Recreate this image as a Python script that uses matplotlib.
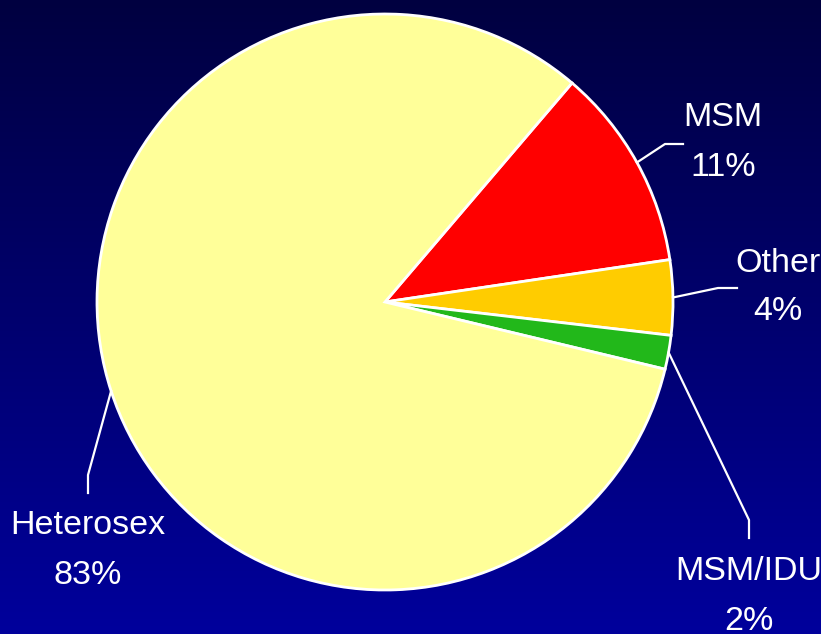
#!/usr/bin/env python

import numpy as np
import matplotlib.pyplot as plt
from matplotlib.colors import LinearSegmentedColormap

plt.rcParams['font.family'] = ['Liberation Sans', 'DejaVu Sans']

groups = ['MSM', 'Other', 'MSM/IDU', 'Heterosex']
shares = [11.4, 4.2, 1.9, 82.5]
pct_labels = ['11%', '4%', '2%', '83%']
colors = ['#FF0000', '#FFCC00', '#22B81A', '#FFFF99']

W, H = 821, 634
fig = plt.figure(figsize=(W / 100, H / 100), dpi=100)

# background gradient, dark navy on top to brighter blue at bottom
bg = fig.add_axes([0, 0, 1, 1])
grad = np.linspace(0, 1, 256).reshape(-1, 1)
cmap = LinearSegmentedColormap.from_list('bg', ['#000040', '#00009C'])
bg.imshow(grad, aspect='auto', cmap=cmap, extent=[0, 1, 0, 1])
bg.axis('off')

# pie centre (385, 302) px, radius 288 px
cx, cy, r = 385, 302, 288
ax = fig.add_axes([(cx - r) / W, (H - cy - r) / H, 2 * r / W, 2 * r / H])
wedges, _ = ax.pie(shares, colors=colors, startangle=49.5, counterclock=False,
                   wedgeprops=dict(edgecolor='white', linewidth=2))
ax.set_xlim(-1, 1)
ax.set_ylim(-1, 1)
ax.set_aspect('equal')


def px(x, y):
    return (x - cx) / r, (cy - y) / r


# elbow point, end of leader, label centre (pixels)
layout = {
    'MSM': ((665, 144), (683, 144), (723, 142)),
    'Other': ((718, 288), (737, 288), (778, 287)),
    'MSM/IDU': ((749, 520), (749, 538), (749, 596)),
    'Heterosex': ((88, 475), (88, 493), (88, 550)),
}

for w, g, p in zip(wedges, groups, pct_labels):
    ang = np.deg2rad((w.theta1 + w.theta2) / 2)
    x0, y0 = np.cos(ang), np.sin(ang)
    elbow, end, lab = layout[g]
    ex, ey = px(*elbow)
    fx, fy = px(*end)
    ax.plot([x0, ex, fx], [y0, ey, fy], color='white', lw=1.6, clip_on=False)
    for txt, dy in ((g, -24), (p, 25)):
        lx, ly = px(lab[0], lab[1] + dy)
        ax.text(lx, ly, txt, color='white', fontsize=24.5, ha='center',
                va='center', clip_on=False)

fig.savefig('out.png', dpi=100)
